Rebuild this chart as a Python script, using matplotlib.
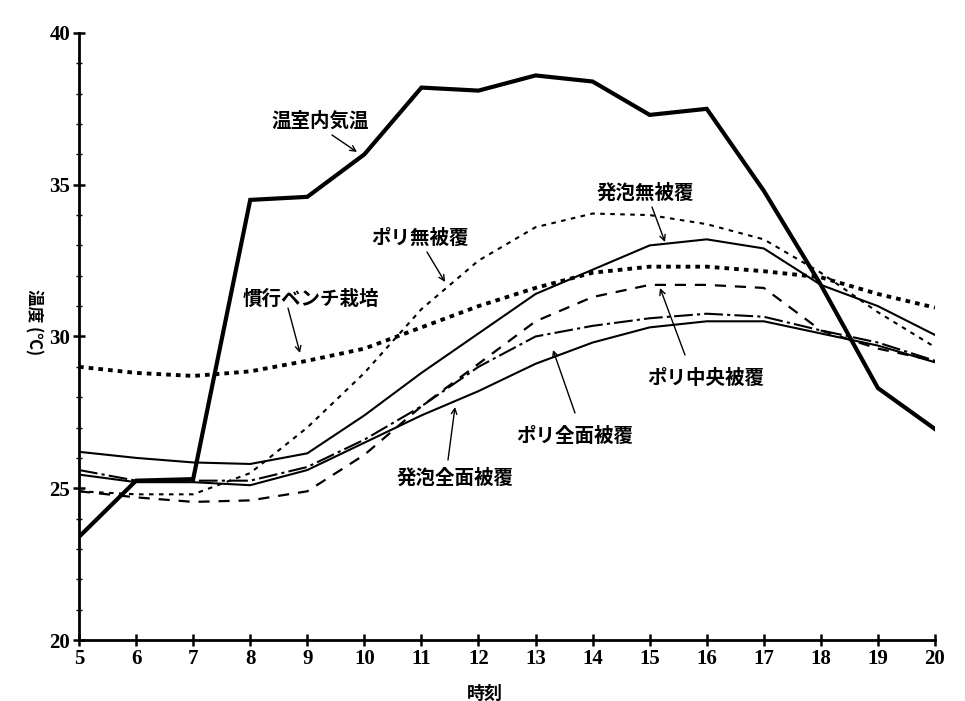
import numpy as np
import matplotlib
matplotlib.use("Agg")
import matplotlib.pyplot as plt

plt.rcParams['font.family'] = ['Noto Sans CJK JP', 'DejaVu Sans']

# 時刻 (5時～20時)
hours = list(range(5, 21))

# 各処理区の温度 (℃)
greenhouse_air = [23.4, 25.25, 25.3, 34.5, 34.6, 36.0, 38.2, 38.1, 38.6, 38.4, 37.3, 37.5, 34.8, 31.7, 28.3, 26.95]
poly_bare = [24.9, 24.8, 24.8, 25.5, 27.0, 28.8, 30.9, 32.5, 33.6, 34.05, 34.0, 33.7, 33.2, 32.1, 30.8, 29.65]
bench = [29.0, 28.8, 28.7, 28.85, 29.2, 29.6, 30.3, 31.0, 31.6, 32.1, 32.3, 32.3, 32.15, 31.95, 31.4, 30.95]
foam_bare = [26.2, 26.0, 25.85, 25.8, 26.15, 27.4, 28.8, 30.1, 31.4, 32.2, 33.0, 33.2, 32.9, 31.7, 31.0, 30.05]
poly_center = [24.9, 24.7, 24.55, 24.6, 24.9, 26.1, 27.7, 29.1, 30.5, 31.3, 31.7, 31.7, 31.6, 30.2, 29.6, 29.2]
poly_full = [25.6, 25.25, 25.25, 25.25, 25.7, 26.6, 27.7, 29.0, 30.0, 30.35, 30.6, 30.75, 30.65, 30.2, 29.8, 29.2]
foam_full = [25.45, 25.2, 25.2, 25.1, 25.6, 26.5, 27.4, 28.2, 29.1, 29.8, 30.3, 30.5, 30.5, 30.1, 29.7, 29.15]

fig = plt.figure(figsize=(9.65, 7.01), dpi=100)
ax = fig.add_axes([0.0819, 0.087, 0.887, 0.866])

k = "black"
ax.plot(hours, greenhouse_air, color=k, lw=3.0, solid_joinstyle="miter")
ax.plot(hours, poly_bare, color=k, lw=1.5, dashes=(2.2, 2.6))
ax.plot(hours, bench, color=k, lw=2.8, dashes=(1.2, 1.3))
ax.plot(hours, foam_bare, color=k, lw=1.5)
ax.plot(hours, poly_center, color=k, lw=1.6, dashes=(5, 4))
ax.plot(hours, poly_full, color=k, lw=1.5, dashes=(9, 2, 1.5, 2))
ax.plot(hours, foam_full, color=k, lw=1.5)

ax.set_xlim(5, 20)
ax.set_ylim(20, 40)
ax.set_xticks(hours)
ax.set_yticks([20, 25, 30, 35, 40])
ax.set_yticks(np.arange(20, 41, 1), minor=True)

for s in ["top", "right"]:
    ax.spines[s].set_visible(False)
for s in ["left", "bottom"]:
    ax.spines[s].set_linewidth(2.0)

ax.tick_params(axis="both", which="major", direction="inout", length=9, width=1.8, pad=2)
ax.tick_params(axis="y", which="minor", direction="inout", length=4, width=1.0)
for lab in ax.get_xticklabels() + ax.get_yticklabels():
    lab.set_fontfamily("Liberation Serif")
    lab.set_fontweight("bold")
    lab.set_fontsize(15)

fig.text(34 / 965, 1 - 322 / 701, "温度 (℃)", rotation=270, ha="center", va="center",
         fontsize=12, fontweight="bold")
fig.text(485 / 965, 1 - 693 / 701, "時刻", ha="center", va="center",
         fontsize=13, fontweight="bold")

# 凡例の代わりに矢印付きの注記
arrow = dict(arrowstyle="->", color=k, lw=1.0, shrinkA=0, shrinkB=0)
notes = [
    ("温室内気温", (320, 121), (332, 135), (357, 152)),
    ("ポリ無被覆", (420, 238), (427, 252), (445, 282)),
    ("慣行ベンチ栽培", (311, 299), (288, 308), (300, 353)),
    ("発泡無被覆", (645, 193), (652, 207), (665, 242)),
    ("ポリ中央被覆", (706, 378), (685, 355), (660, 288)),
    ("ポリ全面被覆", (575, 436), (575, 413), (553, 350)),
    ("発泡全面被覆", (455, 478), (448, 460), (455, 407)),
]
for text, (tx, ty), (ax0, ay0), (ax1, ay1) in notes:
    fig.text(tx / 965, 1 - ty / 701, text, ha="center", va="center",
             fontsize=14, fontweight="bold")
    ax.annotate("", xy=(ax1 / 965, 1 - ay1 / 701), xycoords="figure fraction",
                xytext=(ax0 / 965, 1 - ay0 / 701), textcoords="figure fraction",
                arrowprops=arrow)

fig.savefig("out.png", dpi=100)
